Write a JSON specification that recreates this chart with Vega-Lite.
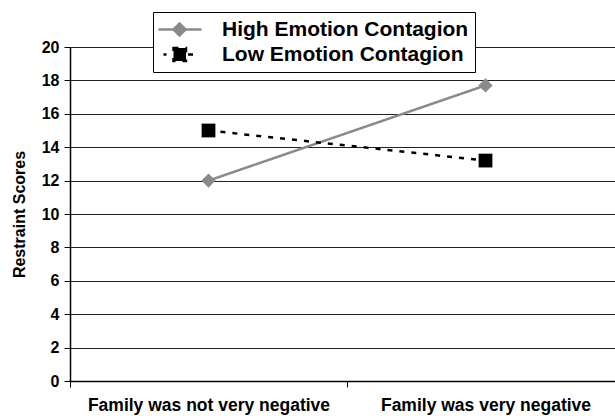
{
  "$schema": "https://vega.github.io/schema/vega-lite/v6.json",
  "autosize": "none",
  "padding": {"left": 70, "top": 47, "right": 0, "bottom": 35},
  "width": 554,
  "height": 334,
  "background": "white",
  "config": {"view": {"stroke": null}, "font": "Liberation Sans"},
  "data": {"values": [
    {"cond": "Family was not very negative", "group": "High Emotion Contagion", "v": 12.0},
    {"cond": "Family was very negative", "group": "High Emotion Contagion", "v": 17.7},
    {"cond": "Family was not very negative", "group": "Low Emotion Contagion", "v": 15.0},
    {"cond": "Family was very negative", "group": "Low Emotion Contagion", "v": 13.2}
  ]},
  "encoding": {
    "x": {"field": "cond", "type": "nominal", "sort": ["Family was not very negative", "Family was very negative"],
      "bandPosition": 0.5,
      "scale": {"type": "band", "paddingInner": 0, "paddingOuter": 0},
      "axis": {"title": null, "labelAngle": 0, "labelFontSize": 17.5, "labelFontWeight": "bold", "labelColor": "black", "labelLimit": 0,
        "tickBand": "extent", "tickSize": 6, "tickColor": "black", "labelPadding": 9, "domainColor": "black", "domainWidth": 1.5, "grid": false}},
    "y": {"field": "v", "type": "quantitative",
      "scale": {"domain": [0, 20], "nice": false},
      "axis": {"title": "Restraint Scores", "titleFontSize": 16, "titleFontWeight": "bold", "titleColor": "black", "titlePadding": 14,
        "values": [0, 2, 4, 6, 8, 10, 12, 14, 16, 18, 20], "labelFontSize": 16, "labelFontWeight": "bold", "labelColor": "black",
        "tickSize": 6, "tickColor": "black", "labelPadding": 5, "domainColor": "black", "domainWidth": 1.5,
        "grid": true, "gridColor": "#222222", "gridWidth": 1}},
    "color": {"field": "group", "type": "nominal",
      "scale": {"domain": ["High Emotion Contagion", "Low Emotion Contagion"], "range": ["#8a8a8a", "#000000"]},
      "legend": {"title": null, "orient": "none", "legendX": 83, "legendY": -35, "direction": "vertical",
        "labelFontSize": 21, "labelFontWeight": "bold", "labelColor": "black", "labelLimit": 0,
        "strokeColor": "black", "fillColor": "white", "padding": 6, "rowPadding": 2,
        "symbolType": "M-2.1,0H2.2M0,-0.6L0.6,0L0,0.6L-0.6,0Z",
        "symbolSize": 400, "symbolOffset": 9, "labelOffset": 31,
        "encode": {"symbols": {"update": {
          "shape": {"signal": "datum.value === 'High Emotion Contagion' ? 'M-2.1,0H2.2M0,-0.6L0.6,0L0,0.6L-0.6,0Z' : 'M-1.6,0H-1.3M-0.6,-0.65H0.65V0.65H-0.6ZM0.85,0H1.35'"},
          "fill": {"signal": "datum.value === 'High Emotion Contagion' ? '#8a8a8a' : '#000000'"},
          "stroke": {"signal": "datum.value === 'High Emotion Contagion' ? '#8a8a8a' : '#000000'"},
          "strokeWidth": {"value": 2.5},
          "strokeDash": {"value": [1, 0]},
          "opacity": {"value": 1},
          "fillOpacity": {"value": 1}
        }}}}}
  },
  "layer": [
    {"mark": {"type": "line", "strokeWidth": 2.5},
     "encoding": {"strokeDash": {"field": "group", "type": "nominal",
        "scale": {"domain": ["High Emotion Contagion", "Low Emotion Contagion"], "range": [[1, 0], [5, 7]]}, "legend": null}}},
    {"transform": [{"filter": "datum.group === 'High Emotion Contagion'"}],
     "mark": {"type": "point", "filled": true, "opacity": 1, "size": 200, "shape": "diamond"}},
    {"transform": [{"filter": "datum.group === 'Low Emotion Contagion'"}],
     "mark": {"type": "point", "filled": true, "opacity": 1, "size": 190, "shape": "square"}}
  ]
}
